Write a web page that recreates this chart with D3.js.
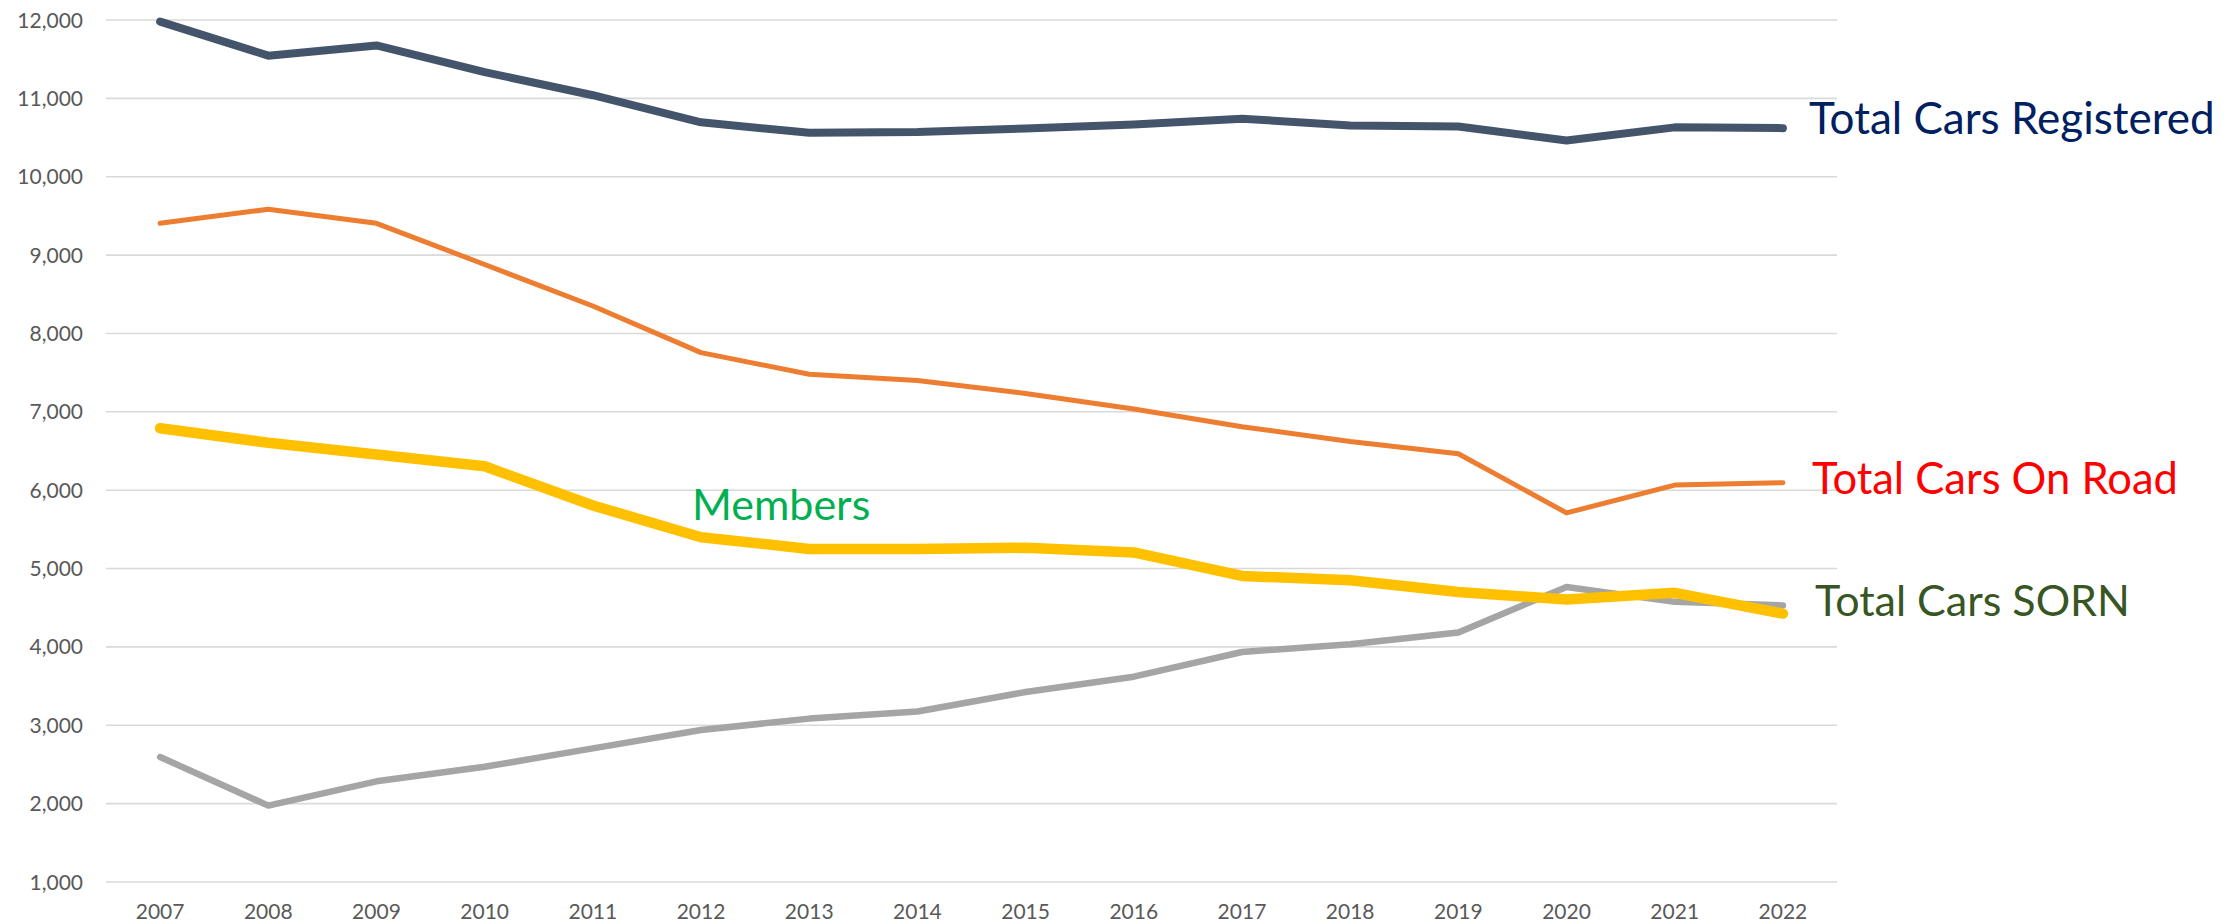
<!DOCTYPE html>
<html>
<head>
<meta charset="utf-8">
<script src="https://cdn.jsdelivr.net/npm/d3@7"></script>
<style>
  html, body { margin: 0; padding: 0; background: #fff; }
  svg { display: block; }
  text { font-family: Lato, "Open Sans", sans-serif; }
</style>
</head>
<body>
<svg id="chart" width="2235" height="924"></svg>
<script>
// years along the x axis
const years = ["2007", "2008", "2009", "2010", "2011", "2012", "2013", "2014",
               "2015", "2016", "2017", "2018", "2019", "2020", "2021", "2022"];

// series values
const registered = [11980, 11545, 11675, 11335, 11040, 10695, 10560, 10570,
                    10615, 10665, 10740, 10655, 10640, 10462, 10630, 10620];
const onRoad     = [9405, 9585, 9405, 8880, 8350, 7755, 7480, 7400,
                    7235, 7035, 6810, 6620, 6465, 5710, 6065, 6095];
const sorn       = [2595, 1975, 2285, 2470, 2705, 2940, 3085, 3175,
                    3425, 3620, 3935, 4035, 4185, 4765, 4575, 4530];
const members    = [6790, 6605, 6455, 6305, 5805, 5400, 5250, 5250,
                    5265, 5205, 4905, 4850, 4700, 4605, 4690, 4425];

const yTicks = [1000, 2000, 3000, 4000, 5000, 6000, 7000, 8000, 9000, 10000, 11000, 12000];

const series = [
  { name: "registered", values: registered, color: "#44546A", width: 8 },
  { name: "onRoad",     values: onRoad,     color: "#ED7D31", width: 5 },
  { name: "sorn",       values: sorn,       color: "#A5A5A5", width: 6.5 },
  { name: "members",    values: members,    color: "#FFC000", width: 10.5 }
];

const labels = [
  { text: "Total Cars Registered", color: "#002060", x: 1809, y: 134, size: 44 },
  { text: "Total Cars On Road",    color: "#FF0000", x: 1812, y: 494, size: 43.5 },
  { text: "Total Cars SORN",       color: "#375623", x: 1815, y: 616, size: 43 },
  { text: "Members",               color: "#00B050", x: 692,  y: 520, size: 43 }
];

const svg = d3.select("#chart");

const x = d3.scalePoint().domain(years).range([106, 1837]).padding(0.5);
const y = d3.scaleLinear().domain([1000, 12000]).range([882, 20]);

// horizontal gridlines
svg.append("g")
  .selectAll("line")
  .data(yTicks)
  .join("line")
  .attr("x1", 106)
  .attr("x2", 1837)
  .attr("y1", d => y(d))
  .attr("y2", d => y(d))
  .attr("stroke", "#D9D9D9")
  .attr("stroke-width", 1.6);

// y labels
const fmt = d3.format(",");
svg.append("g")
  .selectAll("text")
  .data(yTicks)
  .join("text")
  .attr("x", 83)
  .attr("y", d => y(d))
  .attr("dy", "0.36em")
  .attr("text-anchor", "end")
  .attr("fill", "#595959")
  .style("font-size", "21px")
  .text(d => fmt(d));

// x labels
svg.append("g")
  .selectAll("text")
  .data(years)
  .join("text")
  .attr("x", d => x(d))
  .attr("y", 919)
  .attr("text-anchor", "middle")
  .attr("fill", "#595959")
  .style("font-size", "21px")
  .text(d => d);

const line = d3.line()
  .x((d, i) => x(years[i]))
  .y(d => y(d));

svg.append("g")
  .selectAll("path")
  .data(series)
  .join("path")
  .attr("d", d => line(d.values))
  .attr("fill", "none")
  .attr("stroke", d => d.color)
  .attr("stroke-width", d => d.width)
  .attr("stroke-linejoin", "round")
  .attr("stroke-linecap", "round");

// series annotations
svg.append("g")
  .selectAll("text")
  .data(labels)
  .join("text")
  .attr("x", d => d.x)
  .attr("y", d => d.y)
  .attr("fill", d => d.color)
  .style("font-size", d => d.size + "px")
  .text(d => d.text);
</script>
</body>
</html>
